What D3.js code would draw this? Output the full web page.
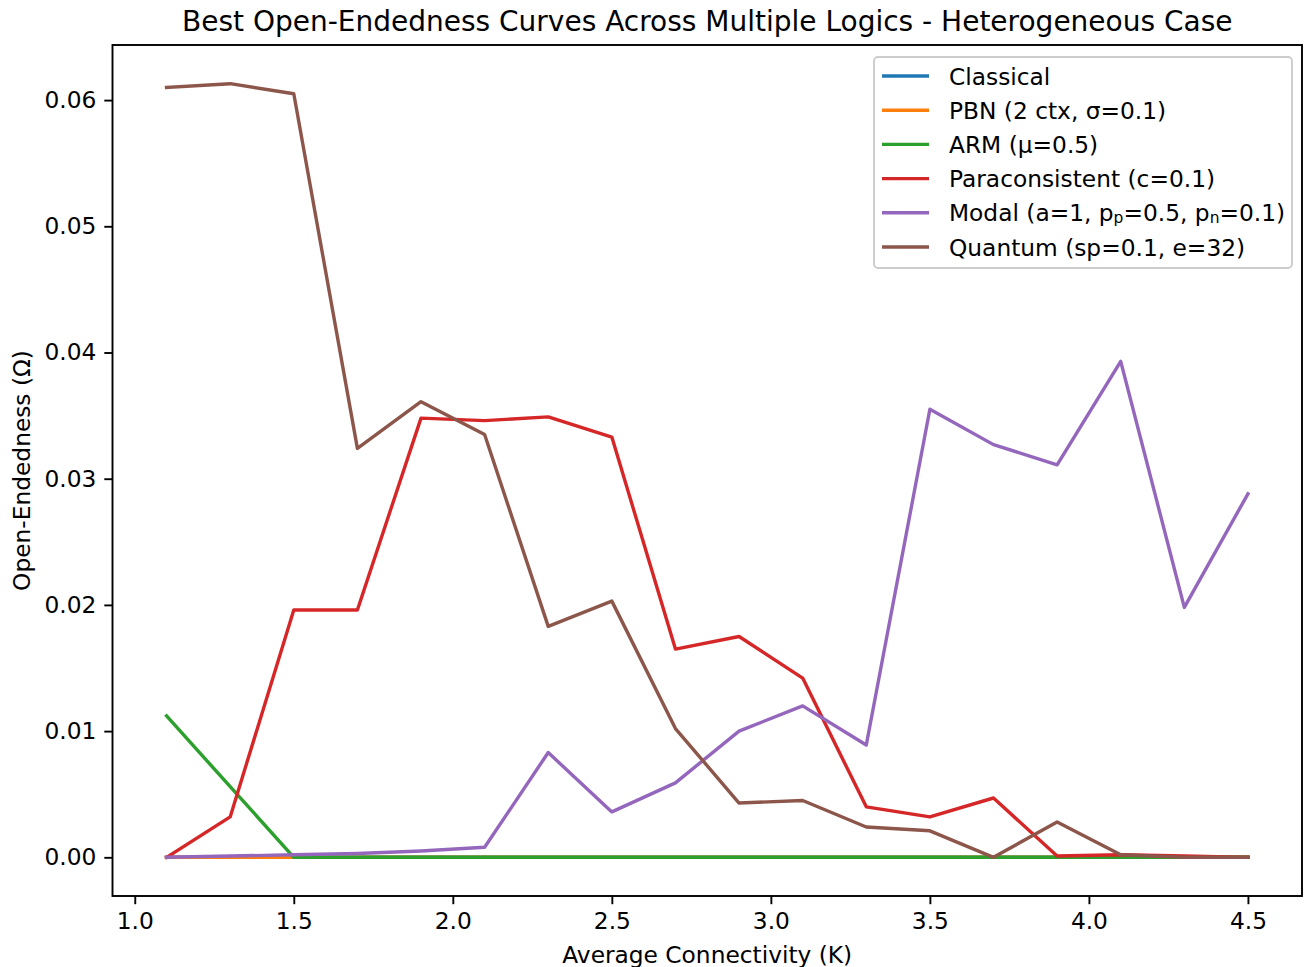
<!DOCTYPE html>
<html><head><meta charset="utf-8">
<script src="https://cdn.jsdelivr.net/npm/d3@7"></script>
<style>body{margin:0;background:#fff}svg{display:block}text{font-family:"DejaVu Sans",sans-serif;fill:#000}</style>
</head><body><svg id="c" width="1304" height="967"></svg>
<script>
const kValues = [1.1,1.3,1.5,1.7,1.9,2.1,2.3,2.5,2.7,2.9,3.1,3.3,3.5,3.7,3.9,4.1,4.3,4.5];
const classical = [0,0,0,0,0,0,0,0,0,0,0,0,0,0,0,0,0,0];
const pbn = [0,0,0,0,0,0,0,0,0,0,0,0,0,0,0,0,0,0];
const arm = [0.0112,0.0056,0,0,0,0,0,0,0,0,0,0,0,0,0,0,0,0];
const paraconsistent = [0,0.0032,0.0196,0.0196,0.0348,0.0346,0.0349,0.0333,0.0165,0.0175,0.0142,0.0040,0.0032,0.0047,0.0001,0.0002,0.0001,0];
const modal = [0.0000,0.0001,0.0002,0.0003,0.0005,0.0008,0.0083,0.0036,0.0059,0.0100,0.0120,0.0089,0.0355,0.0327,0.0311,0.0393,0.0198,0.0288];
const quantum = [0.0610,0.0613,0.0605,0.0324,0.0361,0.0335,0.0183,0.0203,0.0102,0.0043,0.0045,0.0024,0.0021,0.0000,0.0028,0.0002,0.0000,0.0000];
const xTicks = [1.0,1.5,2.0,2.5,3.0,3.5,4.0,4.5];
const yTicks = [0,0.01,0.02,0.03,0.04,0.05,0.06];
const seriesNames = ["Classical","PBN (2 ctx, σ=0.1)","ARM (μ=0.5)","Paraconsistent (c=0.1)","Modal","Quantum (sp=0.1, e=32)"];
const colors = ["#1f77b4","#ff7f0e","#2ca02c","#d62728","#9467bd","#8c564b"];
const seriesData = [classical,pbn,arm,paraconsistent,modal,quantum];

const FS = 23.3, TFS = 28;
const svg = d3.select("#c");
const L=112.5, R=1302, T=45, B=896;
const xMin=1.1, xMax=4.5, xPad=(xMax-xMin)*0.05;
const x = d3.scaleLinear().domain([xMin-xPad, xMax+xPad]).range([L,R]);
const yMaxV = d3.max(seriesData.flat()), yPad = yMaxV*0.05;
const y = d3.scaleLinear().domain([-yPad, yMaxV+yPad]).range([B,T]);

const line = d3.line().x((d,i)=>x(kValues[i])).y(d=>y(d));
const g = svg.append("g");
seriesData.forEach((s,i)=>{
  g.append("path").datum(s).attr("d",line).attr("fill","none")
   .attr("stroke",colors[i]).attr("stroke-width",3.4).attr("stroke-linejoin","round").attr("stroke-linecap","square");
});

// axes
const xa = svg.append("g").attr("transform",`translate(0,${B})`)
  .call(d3.axisBottom(x).tickValues(xTicks).tickFormat(d3.format(".1f")).tickSizeOuter(0).tickSize(8.2).tickPadding(8.5));
const ya = svg.append("g").attr("transform",`translate(${L},0)`)
  .call(d3.axisLeft(y).tickValues(yTicks).tickFormat(d3.format(".2f")).tickSizeOuter(0).tickSize(8.2).tickPadding(8));
[xa,ya].forEach(a=>{a.select(".domain").remove();a.selectAll("line").attr("stroke","#000").attr("stroke-width",1.9);a.selectAll("text").attr("font-size",FS).attr("font-family","DejaVu Sans").attr("fill","#000");});
svg.append("rect").attr("x",L).attr("y",T).attr("width",R-L).attr("height",B-T)
  .attr("fill","none").attr("stroke","#000").attr("stroke-width",1.9);

svg.append("text").attr("x",(L+R)/2).attr("y",31).attr("text-anchor","middle").attr("font-size",TFS)
  .text("Best Open-Endedness Curves Across Multiple Logics - Heterogeneous Case");
svg.append("text").attr("x",(L+R)/2).attr("y",963).attr("text-anchor","middle").attr("font-size",FS)
  .text("Average Connectivity (K)");
svg.append("text").attr("transform",`translate(30,${(T+B)/2}) rotate(-90)`).attr("text-anchor","middle").attr("font-size",FS)
  .text("Open-Endedness (Ω)");

// legend
const lg = svg.append("g");
lg.append("rect").attr("x",874).attr("y",57).attr("width",418).attr("height",211).attr("rx",4)
  .attr("fill","#fff").attr("fill-opacity",0.8).attr("stroke","#ccc").attr("stroke-width",1.9);
seriesNames.forEach((n,i)=>{
  const yy = 76 + i*34.2;
  lg.append("line").attr("x1",882).attr("x2",929).attr("y1",yy).attr("y2",yy).attr("stroke",colors[i]).attr("stroke-width",3.4);
  const t = lg.append("text").attr("x",949).attr("y",yy+8.5).attr("font-size",FS);
  if(i===4){
    t.append("tspan").text("Modal (a=1, p");
    t.append("tspan").attr("font-size",15.5).attr("dy",2).text("p");
    t.append("tspan").attr("dy",-2).text("=0.5, p");
    t.append("tspan").attr("font-size",15.5).attr("dy",2).text("n");
    t.append("tspan").attr("dy",-2).text("=0.1)");
  } else t.text(n);
});
</script></body></html>
